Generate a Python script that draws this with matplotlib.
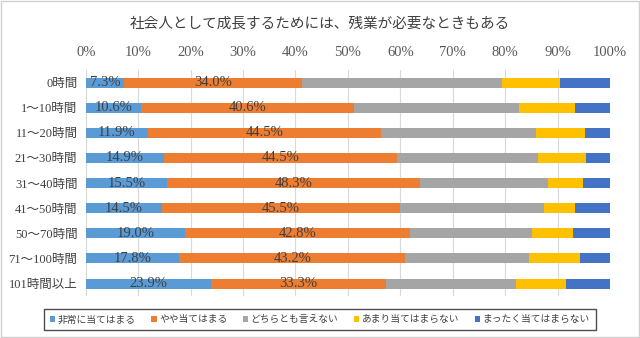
import matplotlib.pyplot as plt
from matplotlib.patches import Rectangle

CATEGORIES = ["0時間", "1～10時間", "11～20時間", "21～30時間", "31～40時間",
              "41～50時間", "50～70時間", "71～100時間", "101時間以上"]
SERIES = ["非常に当てはまる", "やや当てはまる", "どちらとも言えない",
          "あまり当てはまらない", "まったく当てはまらない"]
VERY = [7.3, 10.6, 11.9, 14.9, 15.5, 14.5, 19.0, 17.8, 23.9]
SOMEWHAT = [34.0, 40.6, 44.5, 44.5, 48.3, 45.5, 42.8, 43.2, 33.3]
NEUTRAL = [38.1, 31.5, 29.5, 26.8, 24.4, 27.4, 23.4, 23.5, 24.8]
NOT_MUCH = [11.1, 10.7, 9.3, 9.3, 6.7, 5.9, 7.8, 9.8, 9.6]
NOT_AT_ALL = [9.5, 6.6, 4.8, 4.6, 5.1, 6.7, 7.0, 5.7, 8.4]
COLORS = ["#5B9BD5", "#ED7D31", "#A5A5A5", "#FFC000", "#4472C4"]
TITLE = "社会人として成長するためには、残業が必要なときもある"

FONT = ["Liberation Serif", "Noto Sans CJK JP"]
plt.rcParams["font.family"] = FONT

fig = plt.figure(figsize=(6.4, 3.38), dpi=100)
ax = fig.add_axes([0.134, 0.124, 0.819, 0.669])

values = [VERY, SOMEWHAT, NEUTRAL, NOT_MUCH, NOT_AT_ALL]
y = list(range(len(CATEGORIES)))
left = [0.0] * len(CATEGORIES)
for i, (vals, name) in enumerate(zip(values, SERIES)):
    bars = ax.barh(y, [v / 100 for v in vals], left=left, height=0.4,
                   color=COLORS[i], label=name, zorder=3)
    if i < 2:
        # only the first two series carry data labels
        for b, v in zip(bars, vals):
            ax.text(b.get_x() + b.get_width() / 2, b.get_y() + b.get_height() / 2,
                    f"{v:.1f}%", ha="center", va="center", fontsize=10.5,
                    color="#404040", zorder=4)
    left = [l + v / 100 for l, v in zip(left, vals)]

ax.set_xlim(0, 1)
ax.set_ylim(len(CATEGORIES) - 0.5, -0.5)
ax.set_xticks([i / 10 for i in range(11)])
ax.set_xticklabels([f"{i * 10}%" for i in range(11)], fontsize=10.5, color="#595959")
ax.xaxis.tick_top()
ax.tick_params(axis="x", length=0, pad=8)
ax.set_yticks(y)
ax.set_yticklabels(CATEGORIES, fontsize=9, color="#404040")
ax.tick_params(axis="y", length=0, pad=6)
ax.grid(axis="x", color="#D9D9D9", linewidth=0.8, zorder=0)
for s in ax.spines.values():
    s.set_visible(False)

fig.text(0.5, 0.93, TITLE, ha="center", va="center", fontsize=10.5,
         color="#404040", family=["Noto Sans CJK JP"])

leg = fig.legend(loc="center", bbox_to_anchor=(0.5, 0.055), ncol=5,
                 frameon=True, fancybox=False, handlelength=0.55,
                 handleheight=0.55, handletextpad=0.25, columnspacing=1.6,
                 borderpad=0.6, borderaxespad=0,
                 prop={"family": ["Noto Sans CJK JP"], "size": 7})
leg.get_frame().set_edgecolor("#202020")
leg.get_frame().set_linewidth(1.0)
for t in leg.get_texts():
    t.set_color("#404040")

fig.patches.append(Rectangle((0.002, 0.003), 0.996, 0.994, transform=fig.transFigure,
                             fill=False, edgecolor="#D0D0D0", linewidth=1))

fig.savefig("out.png", dpi=100)
